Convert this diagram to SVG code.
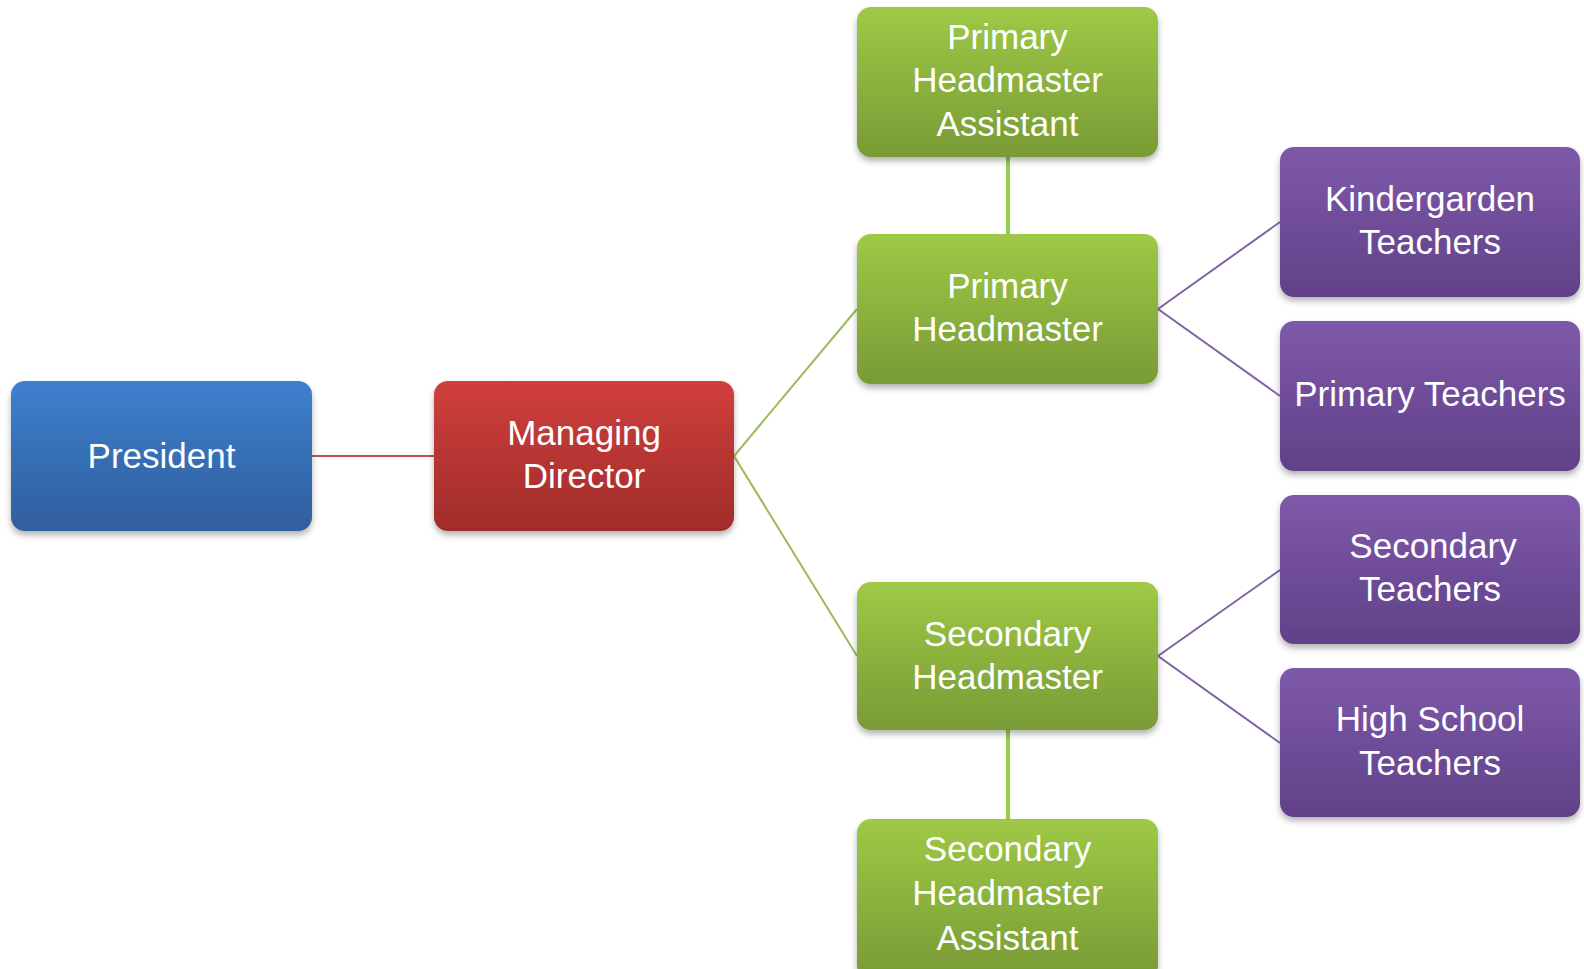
<svg xmlns="http://www.w3.org/2000/svg" width="1584" height="969" viewBox="0 0 1584 969">
<defs>
<linearGradient id="gBlue" x1="0" y1="0" x2="0" y2="1"><stop offset="0" stop-color="#3d80ce"/><stop offset="1" stop-color="#2f5e9d"/></linearGradient>
<linearGradient id="gRed" x1="0" y1="0" x2="0" y2="1"><stop offset="0" stop-color="#d03f3c"/><stop offset="1" stop-color="#a02c2a"/></linearGradient>
<linearGradient id="gGreen" x1="0" y1="0" x2="0" y2="1"><stop offset="0" stop-color="#9fc946"/><stop offset="1" stop-color="#789b35"/></linearGradient>
<linearGradient id="gPurple" x1="0" y1="0" x2="0" y2="1"><stop offset="0" stop-color="#7e59a9"/><stop offset="1" stop-color="#614189"/></linearGradient>
<filter id="sh" x="-10%" y="-10%" width="120%" height="130%"><feDropShadow dx="0" dy="4" stdDeviation="3" flood-color="#000" flood-opacity="0.3"/></filter>
</defs>
<style>
.box{filter:url(#sh)}
text{font-family:"Liberation Sans","Noto Sans",Arial,sans-serif;font-size:35px;fill:#fff;text-anchor:middle}
</style>
<g id="connectors" fill="none">
<line x1="312" y1="456" x2="434" y2="456" stroke="#c0504d" stroke-width="2"/>
<polyline points="857,309 734,456 857,656" stroke="#9bbb59" stroke-width="2"/>
<line x1="1008" y1="157" x2="1008" y2="234" stroke="#92d050" stroke-width="4"/>
<line x1="1008" y1="730" x2="1008" y2="819" stroke="#92d050" stroke-width="4"/>
<polyline points="1280,222 1158,309 1280,396" stroke="#8064a2" stroke-width="2"/>
<polyline points="1280,570 1158,656 1280,743" stroke="#8064a2" stroke-width="2"/>
</g>
<g id="president"><rect class="box" x="11" y="381" width="301" height="150" rx="14" fill="url(#gBlue)"/><text x="161.5" y="468">President</text></g>
<g id="managing-director"><rect class="box" x="434" y="381" width="300" height="150" rx="14" fill="url(#gRed)"/><text x="584" y="445">Managing</text><text x="584" y="488">Director</text></g>
<g id="primary-headmaster-assistant"><rect class="box" x="857" y="7" width="301" height="150" rx="14" fill="url(#gGreen)"/><text x="1007.5" y="49">Primary</text><text x="1007.5" y="92">Headmaster</text><text x="1007.5" y="136">Assistant</text></g>
<g id="primary-headmaster"><rect class="box" x="857" y="234" width="301" height="150" rx="14" fill="url(#gGreen)"/><text x="1007.5" y="298">Primary</text><text x="1007.5" y="341">Headmaster</text></g>
<g id="secondary-headmaster"><rect class="box" x="857" y="582" width="301" height="148" rx="14" fill="url(#gGreen)"/><text x="1007.5" y="646">Secondary</text><text x="1007.5" y="689">Headmaster</text></g>
<g id="secondary-headmaster-assistant"><rect class="box" x="857" y="819" width="301" height="160" rx="14" fill="url(#gGreen)"/><text x="1007.5" y="861">Secondary</text><text x="1007.5" y="905">Headmaster</text><text x="1007.5" y="950">Assistant</text></g>
<g id="kindergarden-teachers"><rect class="box" x="1280" y="147" width="300" height="150" rx="14" fill="url(#gPurple)"/><text x="1430" y="211">Kindergarden</text><text x="1430" y="254">Teachers</text></g>
<g id="primary-teachers"><rect class="box" x="1280" y="321" width="300" height="150" rx="14" fill="url(#gPurple)"/><text x="1430" y="406">Primary Teachers</text></g>
<g id="secondary-teachers"><rect class="box" x="1280" y="495" width="300" height="149" rx="14" fill="url(#gPurple)"/><text x="1433" y="558">Secondary</text><text x="1430" y="601">Teachers</text></g>
<g id="high-school-teachers"><rect class="box" x="1280" y="668" width="300" height="149" rx="14" fill="url(#gPurple)"/><text x="1430" y="731">High School</text><text x="1430" y="775">Teachers</text></g>
</svg>
